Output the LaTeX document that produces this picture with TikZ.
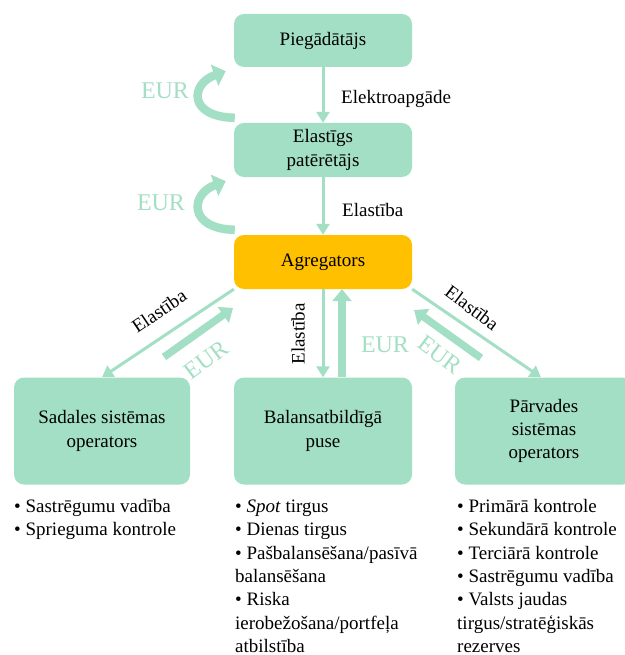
\documentclass[tikz,border=0pt]{standalone}
\usepackage{fontspec}
\setmainfont{Liberation Serif}
\usetikzlibrary{arrows.meta,calc}
\definecolor{mint}{HTML}{A3DFC5}
\definecolor{gold}{HTML}{FFC000}
\begin{document}
\begin{tikzpicture}[x=1pt,y=-1pt,
  txt/.style={font=\fontsize{19}{23.3}\selectfont},
  box/.style={txt,fill=mint,rounded corners=10pt,minimum width=178pt,align=center,inner sep=2pt},
  flow/.style={draw=mint,line width=3pt,-{Triangle[width=13pt,length=11pt]}},
  money/.style={draw=mint,line width=7.5pt,-{Triangle[width=19pt,length=12pt]}},
  eur/.style={text=mint,font=\fontsize{24}{24}\selectfont,inner sep=0pt},
  lbl/.style={txt,inner sep=0pt},
  list/.style={txt,anchor=north west,inner sep=0pt,align=left}]
\useasboundingbox (0,0) rectangle (624,655);

% actors
\node[box,minimum height=53pt] (pie) at (323,40.5) {Piegādātājs};
\node[box,minimum height=54pt] (ela) at (323,150) {Elastīgs\\patērētājs};
\node[box,fill=gold,minimum height=54pt] (agr) at (323,262) {Agregators};
\node[box,minimum width=176pt,minimum height=107pt] (sad) at (102,431) {Sadales sistēmas\\operators};
\node[box,minimum height=107pt] (bal) at (323,431) {Balansatbildīgā\\puse};
\node[box,minimum height=107pt] (parv) at (544,431) {Pārvades\\sistēmas\\operators};

% supply and flexibility chain
\draw[flow] (pie) -- (ela);
\draw[flow] (ela) -- (agr);
\node[lbl,anchor=west] at (341,99) {Elektroapgāde};
\node[lbl,anchor=west] at (342,210) {Elastība};

% payment loops on the left
\draw[draw=mint,line width=8.5pt,-{Triangle[width=22pt,length=12pt]}]
  ([shift={(1,-5)}]ela.north west) .. controls (188,117) and (190,84) .. ([shift={(-8,4)}]pie.south west);
\draw[draw=mint,line width=8.5pt,-{Triangle[width=22pt,length=12pt]}]
  ([shift={(1,-5)}]agr.north west) .. controls (188,229) and (190,194) .. ([shift={(-8,4)}]ela.south west);
\node[eur] at (165,91) {EUR};
\node[eur] at (161,203) {EUR};

% flexibility towards the operators
\draw[flow] (agr.south west) -- (sad.north);
\draw[flow] (agr.south) -- (bal.north);
\draw[flow] (agr.south east) -- ([xshift=-3]parv.north);
\node[lbl,rotate=34] at (159,311) {Elastība};
\node[lbl,rotate=90] at (298,334) {Elastība};
\node[lbl,rotate=-37] at (472,308) {Elastība};

% payments back to the aggregator
\coordinate (sadpay) at (164,357);
\coordinate (sadin) at (233,308);
\coordinate (parvpay) at (481,358);
\coordinate (parvin) at (414,310);
\draw[money] (sadpay) -- (sadin);
\draw[money] ([xshift=19]bal.north) -- ([xshift=19]agr.south);
\draw[money] (parvpay) -- (parvin);
\node[eur,rotate=37] at (206,360) {EUR};
\node[eur] at (385,345) {EUR};
\node[eur,rotate=-37] at (440,355) {EUR};

% services of each operator
\node[list] (sadlist) at (14,496) {\strut• Sastrēgumu vadība\\\strut• Sprieguma kontrole};
\node[list] (ballist) at (235,496) {\strut• \textit{Spot} tirgus\\\strut• Dienas tirgus\\\strut• Pašbalansēšana/pasīvā\\\strut balansēšana\\\strut• Riska\\\strut ierobežošana/portfeļa\\\strut atbilstība};
\node[list] (parvlist) at (457,496) {\strut• Primārā kontrole\\\strut• Sekundārā kontrole\\\strut• Terciārā kontrole\\\strut• Sastrēgumu vadība\\\strut• Valsts jaudas\\\strut tirgus/stratēģiskās\\\strut rezerves};
\end{tikzpicture}
\end{document}
